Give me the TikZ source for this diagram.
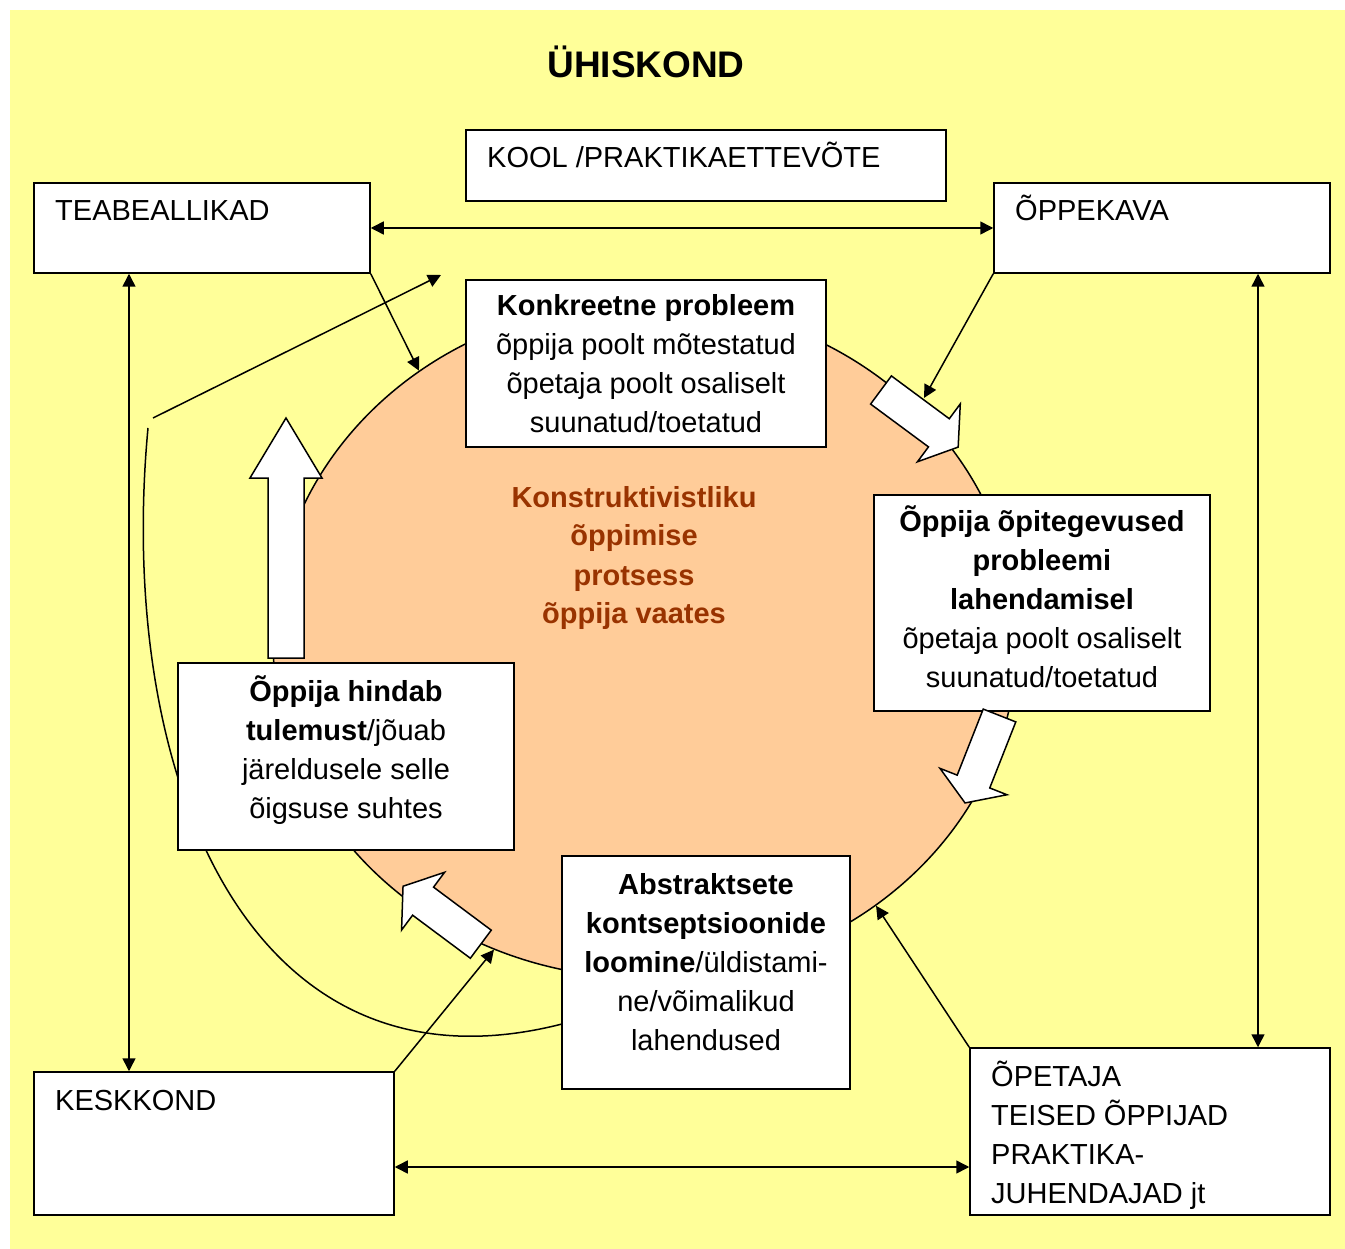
\documentclass[tikz,border=0pt]{standalone}
\usepackage{fontspec}
\setmainfont{Liberation Sans}
\usepackage{xcolor}
\usetikzlibrary{arrows.meta,shapes.geometric}
\definecolor{taust}{HTML}{FFFF99}
\definecolor{ring}{HTML}{FFCC99}
\definecolor{pruun}{HTML}{993300}
\newcommand{\blockarrow}[6]{%
\draw[fat, shift={#1}, rotate=#2] (0,-#4) -- (#3-#6,-#4) -- (#3-#6,-#5) -- (#3,0)
  -- (#3-#6,#5) -- (#3-#6,#4) -- (0,#4) -- cycle;}
\newcommand{\alla}[1]{\rule[-#1]{0pt}{#1}}

\begin{document}
\begin{tikzpicture}[x=1pt,y=-1pt]
\tikzstyle{every node}=[font=\fontsize{29}{39}\selectfont]
\tikzstyle{box}=[draw, fill=white, line width=1.5pt, inner sep=0pt]
\tikzstyle{lbl}=[anchor=base west, inner sep=0pt]
\tikzstyle{link}=[line width=1.5pt, -{Triangle[length=13pt,width=13pt]}]
\tikzstyle{twoway}=[line width=1.5pt, {Triangle[length=13pt,width=13pt]}-{Triangle[length=13pt,width=13pt]}]
\tikzstyle{fat}=[draw, fill=white, line width=1.5pt, line join=miter]

\useasboundingbox (0,0) rectangle (1345,1249);
\fill[taust] (10,10) rectangle (1345,1249);

\node[anchor=base, font=\fontsize{37}{44}\selectfont\bfseries] (pealkiri) at (646,78) {ÜHISKOND};

\node[ellipse, draw, fill=ring, line width=1.5pt, minimum width=744pt, minimum height=676pt, inner sep=0pt] (protsess) at (645,640) {};
\node[align=center, text=pruun, font=\fontsize{29}{39}\selectfont\bfseries] (keskel) at (634,558)
  {Konstruktivistliku\\õppimise\\protsess\\õppija vaates};

\coordinate (kaar) at (148,428);
\coordinate (joonalgus) at (153,418);
\coordinate (joonots) at (441,275);
\coordinate (kavaots) at (924,398);

\node[box, minimum width=480pt, minimum height=71pt] (kool) at (706,165.5) {};
\node[box, minimum width=336pt, minimum height=90pt] (teabe) at (202,228) {};
\node[box, minimum width=336pt, minimum height=90pt] (kava) at (1162,228) {};
\node[box, minimum width=360pt, minimum height=143pt] (keskkond) at (214,1143.5) {};
\node[box, minimum width=360pt, minimum height=167pt] (opetaja) at (1150,1131.5) {};

\node[lbl] at (487,168) {KOOL /PRAKTIKAETTEVÕTE};
\node[lbl] at (55,221) {TEABEALLIKAD};
\node[lbl] at (1015,221) {ÕPPEKAVA};
\node[lbl] at (55,1110) {KESKKOND};
\node[lbl, align=left] at (991,1203) {ÕPETAJA\\TEISED ÕPPIJAD\\PRAKTIKA-\\JUHENDAJAD jt};

\draw[line width=1.5pt] (kaar) .. controls (116,770) and (245,1105) .. (562,1024);
\draw[link] (joonalgus) -- (joonots);

\path
(teabe) edge[twoway] (kava)
([xshift=-73pt]teabe.south) edge[twoway] ([xshift=-73pt]teabe.south |- keskkond.north)
([xshift=96pt]kava.south) edge[twoway] ([xshift=96pt]kava.south |- opetaja.north)
([yshift=-23.5pt]keskkond.east) edge[twoway] ([yshift=-23.5pt]keskkond.east -| opetaja.west)
(teabe.south east) edge[link] (protsess.130)
(kava.south west) edge[link] (kavaots)
(opetaja.north west) edge[link] (protsess.-49)
(keskkond.north east) edge[link] (protsess.244);

\node[box, align=center, minimum width=360pt, minimum height=167pt] (probleem) at (646,363.5)
  {\textbf{Konkreetne probleem}\\õppija poolt mõtestatud\\õpetaja poolt osaliselt\\suunatud/toetatud};
\node[box, align=center, minimum width=336pt, minimum height=216pt] (tegevused) at (1042,603)
  {\textbf{Õppija õpitegevused}\\\textbf{probleemi}\\\textbf{lahendamisel}\\õpetaja poolt osaliselt\\suunatud/toetatud\alla{12pt}};
\node[box, align=center, minimum width=336pt, minimum height=187pt] (hindab) at (346,756.5)
  {\textbf{Õppija hindab}\\\textbf{tulemust}/jõuab\\järeldusele selle\\õigsuse suhtes\alla{18pt}};
\node[box, align=center, minimum width=288pt, minimum height=233pt] (abstr) at (706,972.5)
  {\textbf{Abstraktsete}\\\textbf{kontseptsioonide}\\\textbf{loomine}/üldistami-\\ne/võimalikud\\lahendused\alla{22pt}};

\blockarrow{(286,658)}{90}{240}{18}{36}{60}
\blockarrow{(881,390)}{-36.5}{96}{17.5}{36}{24}
\blockarrow{(999.5,715.5)}{-111.5}{94}{17.5}{36}{23}
\blockarrow{(480.8,944.2)}{143.3}{97}{17.5}{36}{25}
\end{tikzpicture}
\end{document}
